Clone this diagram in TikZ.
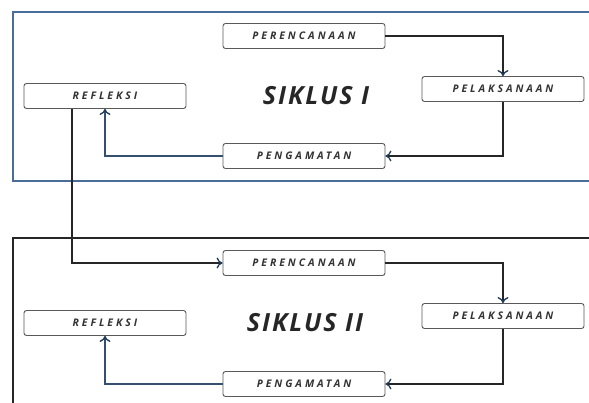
\documentclass[tikz,border=0pt]{standalone}
\usepackage{xcolor}
\usepackage{fontspec}
\usepackage{tikz}
\usetikzlibrary{arrows.meta,positioning}

\newfontfamily\tahapfont[LetterSpace=28]{Open Sans}
\newfontfamily\judulfont[LetterSpace=8]{Open Sans}
\definecolor{bingkaibiru}{HTML}{4A6E99}
\definecolor{ujungpanah}{HTML}{1F3B5C}
\definecolor{garisbiru}{HTML}{34506E}

\begin{document}
\begin{tikzpicture}[
    x=1pt, y=-1pt,
    tahap/.style={rectangle, rounded corners=2.5pt, draw=black!65, line width=0.9pt,
        minimum width=162pt, minimum height=25pt, inner sep=0pt, text=black!80,
        font=\tahapfont\bfseries\itshape\fontsize{10.5}{12}\selectfont},
    judul/.style={text=black!85, font=\judulfont\bfseries\itshape\fontsize{25}{28}\selectfont},
    panah/.style={-{To[length=6pt,width=11pt,line width=1.3pt,color=ujungpanah]}, line width=1.5pt, draw=black!85},
    panahbiru/.style={panah, draw=garisbiru}
]
    \clip (0,0) rectangle (589,403);

    % bingkai siklus
    \draw[bingkaibiru, line width=2pt] (13,12) rectangle (600,181);
    \draw[black!85, line width=1.6pt] (600,238) -- (13,238) -- (13,410);

    % siklus I
    \node[tahap] (rencana1) at (304,36) {PERENCANAAN};
    \node[tahap] (laksana1) at (503,89) {PELAKSANAAN};
    \node[tahap] (amat1) at (304,156) {PENGAMATAN};
    \node[tahap] (refleksi1) at (105,96) {REFLEKSI};
    \node[judul] (siklus1) at (316,96) {SIKLUS I};

    % siklus II
    \node[tahap] (rencana2) at (304,263) {PERENCANAAN};
    \node[tahap] (laksana2) at (503,316) {PELAKSANAAN};
    \node[tahap] (amat2) at (304,384) {PENGAMATAN};
    \node[tahap] (refleksi2) at (105,323) {REFLEKSI};
    \node[judul] (siklus2) at (305,323) {SIKLUS II};

    % alur
    \draw[panah] (rencana1.east) -| (laksana1.north);
    \draw[panah] (laksana1.south) |- (amat1.east);
    \draw[panahbiru] (amat1.west) -| (refleksi1.south);
    \draw[panah] ([xshift=-33pt]refleksi1.south) |- (rencana2.west);
    \draw[panah] (rencana2.east) -| (laksana2.north);
    \draw[panah] (laksana2.south) |- (amat2.east);
    \draw[panahbiru] (amat2.west) -| (refleksi2.south);
\end{tikzpicture}
\end{document}
